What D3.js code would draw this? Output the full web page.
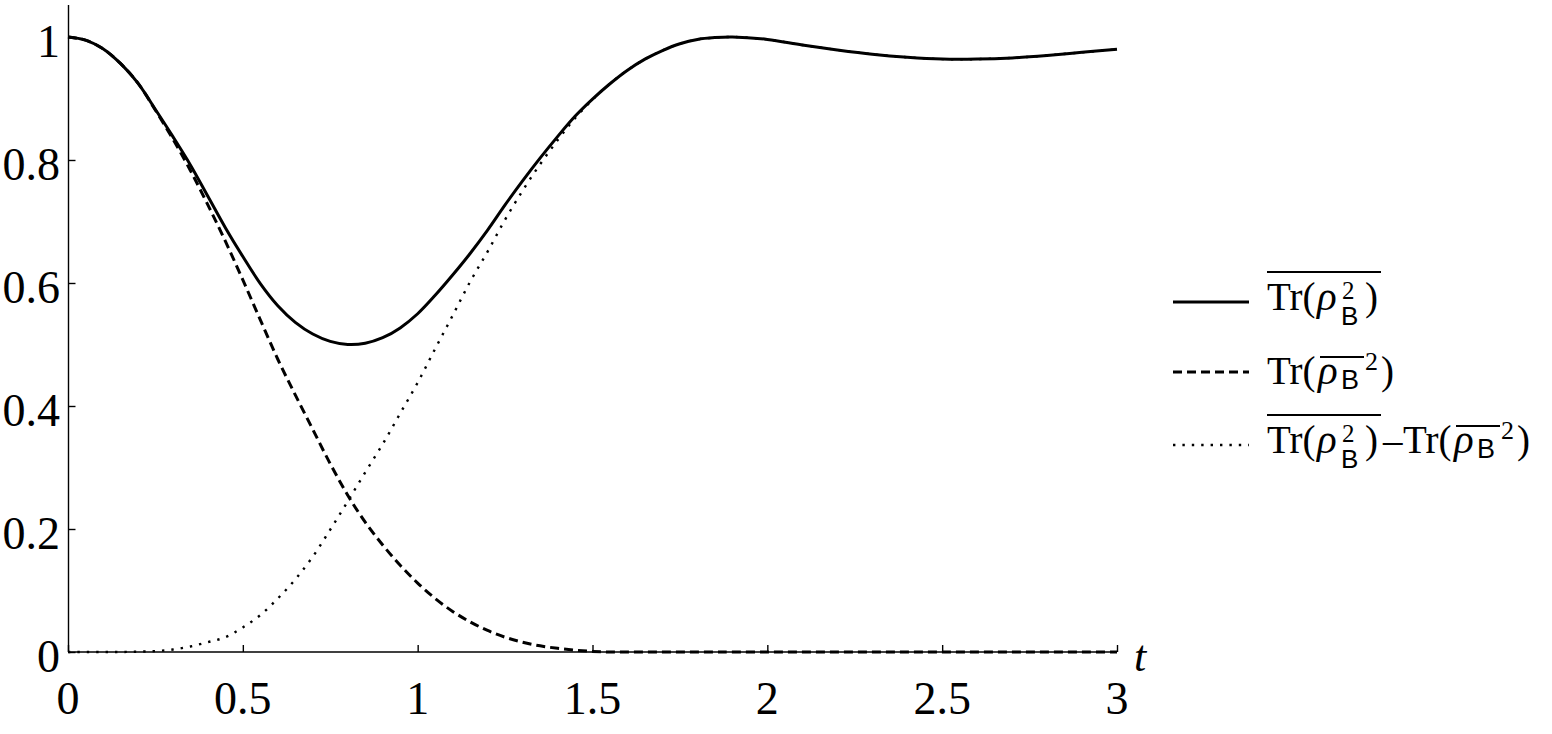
<!DOCTYPE html>
<html>
<head>
<meta charset="utf-8">
<script src="https://cdn.jsdelivr.net/npm/d3@7"></script>
<style>
  html, body { margin: 0; padding: 0; background: #fff; }
  svg { display: block; }
</style>
</head>
<body>
<svg id="chart" width="1552" height="734"></svg>
<script>
// ---- data ----
const tValues = [0,0.05,0.1,0.15,0.2,0.25,0.3,0.35,0.4,0.45,0.5,0.55,0.6,0.65,0.7,0.75,0.8,0.85,0.9,0.95,
  1.0,1.05,1.1,1.15,1.2,1.25,1.3,1.35,1.4,1.45,1.5,1.55,1.6,1.65,1.7,1.75,1.8,1.85,
  1.9,2.0,2.1,2.2,2.3,2.4,2.5,2.6,2.7,2.8,2.9,3.0];

const avgPurity = [1.000,0.995,0.981,0.957,0.925,0.882,0.838,0.792,0.741,0.690,0.643,0.599,0.563,0.536,0.517,0.505,0.500,0.502,0.511,0.527,
  0.550,0.580,0.613,0.648,0.686,0.727,0.766,0.803,0.838,0.871,0.899,0.924,0.946,0.964,0.978,0.989,0.996,0.999,
  1.000,0.996,0.987,0.979,0.972,0.967,0.964,0.964,0.966,0.970,0.975,0.980];

const purityOfAvg = [1.000,0.995,0.981,0.957,0.925,0.881,0.834,0.783,0.727,0.668,0.605,0.540,0.476,0.418,0.362,0.306,0.255,0.211,0.174,0.141,
  0.112,0.087,0.066,0.049,0.035,0.024,0.016,0.010,0.006,0.003,0.001,0,0,0,0,0,0,0,
  0,0,0,0,0,0,0,0,0,0,0,0];

const difference = [0,0,0,0,0.0005,0.0015,0.004,0.009,0.016,0.024,0.040,0.060,0.087,0.118,0.155,0.199,0.245,0.292,0.338,0.388,
  0.438,0.493,0.547,0.602,0.651,0.703,0.750,0.793,0.832,0.868,0.898,0.924,0.946,0.964,0.978,0.989,0.996,0.999,
  1.000,0.996,0.987,0.979,0.972,0.967,0.964,0.964,0.966,0.970,0.975,0.980];

const xTicks = [0,0.5,1,1.5,2,2.5,3];
const xTickLabels = ["0","0.5","1","1.5","2","2.5","3"];
const yTicks = [0,0.2,0.4,0.6,0.8,1];
const yTickLabels = ["0","0.2","0.4","0.6","0.8","1"];

// ---- drawing ----
const svg = d3.select("#chart");
svg.append("rect").attr("width",1552).attr("height",734).attr("fill","#fff");

const x = d3.scaleLinear().domain([0,3]).range([68,1117]);
const y = d3.scaleLinear().domain([0,1.052]).range([652,5]);

const serif = "'Liberation Serif','Times New Roman',serif";
const sans = "'Liberation Sans','DejaVu Sans',sans-serif";

// x axis
const xAxis = d3.axisBottom(x).tickValues(xTicks).tickSize(-7).tickSizeOuter(0).tickFormat("");
const gx = svg.append("g").attr("transform",`translate(0,${y(0)})`).call(xAxis);
gx.selectAll("path,line").attr("stroke","#000").attr("stroke-width",1.4);
gx.select(".domain").attr("d",`M${x(0)},0H${x(3)}`);

svg.append("g").selectAll("text").data(xTicks).join("text")
  .attr("x",d=>x(d)).attr("y",714)
  .attr("text-anchor","middle")
  .attr("font-family",serif).attr("font-size",46)
  .text((d,i)=>xTickLabels[i]);

// y axis
const yAxis = d3.axisLeft(y).tickValues(yTicks).tickSize(-7).tickSizeOuter(0).tickFormat("");
const gy = svg.append("g").attr("transform",`translate(${x(0)+0.5},0)`).call(yAxis);
gy.selectAll("path,line").attr("stroke","#000").attr("stroke-width",1.4);
gy.select(".domain").attr("d",`M0,${y(0)}V${y(1.052)}`);

svg.append("g").selectAll("text").data(yTicks).join("text")
  .attr("x",60).attr("y",d=>y(d)+20)
  .attr("text-anchor","end")
  .attr("font-family",serif).attr("font-size",46)
  .text((d,i)=>yTickLabels[i]);

// axis label t
svg.append("text").attr("x",1134).attr("y",671)
  .attr("font-family",serif).attr("font-style","italic").attr("font-size",44).text("t");

// curves
const series = [
  {vals: difference, dash: "2.4,7", width: 2.4},
  {vals: purityOfAvg, dash: "9,5", width: 3},
  {vals: avgPurity, dash: null, width: 3}
];
const line = d3.line().x(d=>x(d[0])).y(d=>y(d[1])).curve(d3.curveCatmullRom.alpha(0.5));
const plot = svg.append("g");
series.forEach(s=>{
  plot.append("path")
    .datum(tValues.map((t,i)=>[t,s.vals[i]]))
    .attr("d",line)
    .attr("fill","none").attr("stroke","#000")
    .attr("stroke-width",s.width)
    .attr("stroke-dasharray",s.dash);
});

// legend
const leg = svg.append("g");
const legendRows = [
  {y:302, dash:null, w:3},
  {y:372, dash:"9,5", w:3},
  {y:445, dash:"2.4,7", w:2.4}
];
legendRows.forEach(r=>{
  leg.append("line").attr("x1",1173).attr("x2",1249).attr("y1",r.y).attr("y2",r.y)
    .attr("stroke","#000").attr("stroke-width",r.w).attr("stroke-dasharray",r.dash);
});

const MAIN = 39;
function drawLabel(x0, base, pieces){
  let cx = x0;
  const marks = [];
  pieces.forEach(p=>{
    if(p.ol === "start"){ marks.push(cx); return; }
    if(p.ol === "end"){
      const sx = marks.pop();
      leg.append("line").attr("x1",sx+(p.pad0||0)).attr("x2",cx-(p.pad1||0))
        .attr("y1",base-p.h).attr("y2",base-p.h)
        .attr("stroke","#000").attr("stroke-width",2);
      return;
    }
    if(p.stack){
      // subscript and superscript stacked at the same x, in one text element
      const el = leg.append("text").attr("y",base);
      p.stack.forEach(it=>{
        el.append("tspan")
          .attr("x",cx + (it.dx||0)).attr("y",base+(it.dy||0))
          .attr("font-family", it.f==="sans"?sans:serif)
          .attr("font-size", it.s)
          .text(it.t);
      });
      cx += p.w != null ? p.w : el.node().getBBox().width;
      return;
    }
    const el = leg.append("text")
      .attr("x",cx + (p.dx||0)).attr("y",base+(p.dy||0))
      .attr("font-family", p.f==="sans"?sans:serif)
      .attr("font-size", p.s||MAIN)
      .attr("font-style", p.it?"italic":"normal")
      .text(p.t);
    cx += p.w != null ? p.w : el.node().getComputedTextLength();
  });
  return cx;
}

const rhoB2 = [
  {t:"Tr(", f:"serif", w:50},
  {t:"ρ", f:"serif", it:true, s:41, w:24},
  {stack:[{t:"B", f:"sans", s:26, dy:15},{t:"2", f:"serif", s:25, dy:-11, dx:1}], w:24},
  {t:")", f:"serif", w:16}
];
const rhoBbar2 = [
  {t:"Tr(", f:"serif", w:51},
  {ol:"start"},
  {t:"ρ", f:"serif", it:true, s:41, w:23},
  {t:"B", f:"sans", s:27, dy:5, w:23},
  {ol:"end", h:27, pad0:2},
  {t:"2", f:"serif", s:26, dy:-14, dx:1, w:17},
  {t:")", f:"serif", w:14}
];

drawLabel(1267, 310, [{ol:"start"}, ...rhoB2, {ol:"end", h:38}]);
drawLabel(1267, 384, rhoBbar2);
const cx3 = drawLabel(1267, 453, [{ol:"start"}, ...rhoB2, {ol:"end", h:38}, {t:"–", f:"serif", s:39, dx:2, w:22}]);
drawLabel(cx3, 453, rhoBbar2);
</script>
</body>
</html>
